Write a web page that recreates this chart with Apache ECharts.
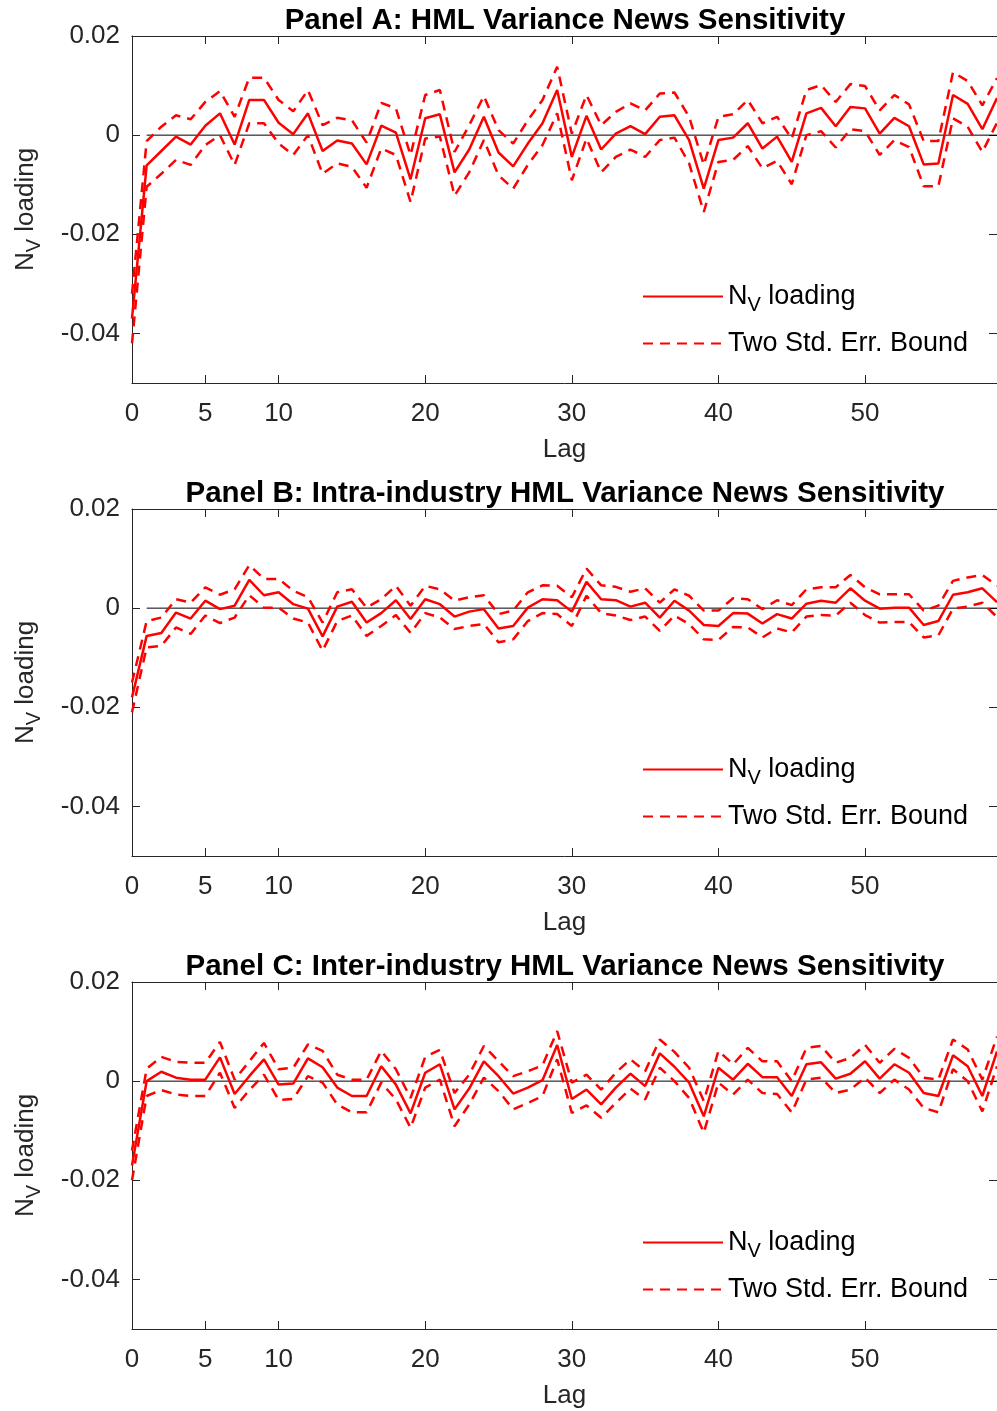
<!DOCTYPE html>
<html>
<head>
<meta charset="utf-8">
<script src="https://cdn.jsdelivr.net/npm/echarts@6/dist/echarts.min.js"></script>
<style>
  html, body { margin: 0; padding: 0; background: #fff; }
  #chart { width: 997px; height: 1411px; }
</style>
</head>
<body>
<div id="chart"></div>
<script>
// lag index (x axis)
const lags = [0, 1, 2, 3, 4, 5, 6, 7, 8, 9, 10, 11, 12, 13, 14, 15, 16, 17, 18, 19,
  20, 21, 22, 23, 24, 25, 26, 27, 28, 29, 30, 31, 32, 33, 34, 35, 36, 37, 38, 39,
  40, 41, 42, 43, 44, 45, 46, 47, 48, 49, 50, 51, 52, 53, 54, 55, 56, 57, 58, 59]

const xTicks = [0, 5, 10, 20, 30, 40, 50]
const yTicks = [-0.04, -0.02, 0, 0.02]
const zeroLine = [[1, 0], [59, 0]]

const titles = [
  'Panel A: HML Variance News Sensitivity',
  'Panel B: Intra-industry HML Variance News Sensitivity',
  'Panel C: Inter-industry HML Variance News Sensitivity'
]

// Panel A
const nvA = [-0.037, -0.0061, -0.0032, -0.0003, -0.0019, 0.0019, 0.0044, -0.0019, 0.0071, 0.0071,
  0.0025, 0.0002, 0.0044, -0.0032, -0.0011, -0.0017, -0.0059, 0.0019, 0.0005, -0.0089,
  0.0034, 0.0042, -0.0075, -0.0029, 0.0037, -0.0035, -0.0063, -0.0017, 0.0024, 0.0091,
  -0.0044, 0.0039, -0.0029, 0.0003, 0.0018, 0.0002, 0.0037, 0.004, -0.001, -0.0108,
  -0.001, -0.0005, 0.0024, -0.0027, -0.0003, -0.0054, 0.0044, 0.0055, 0.0018, 0.0057,
  0.0054, 0.0003, 0.0035, 0.0018, -0.0059, -0.0057, 0.0081, 0.0063, 0.0012, 0.0075]
const upA = [-0.032, -0.0012, 0.0017, 0.004, 0.0032, 0.0067, 0.0089, 0.0037, 0.0116, 0.0116,
  0.0071, 0.0048, 0.0091, 0.002, 0.0035, 0.003, -0.0015, 0.0065, 0.0054, -0.004,
  0.0081, 0.0091, -0.0034, 0.002, 0.0079, 0.001, -0.0017, 0.003, 0.0071, 0.0138,
  0.0003, 0.0081, 0.002, 0.0047, 0.0064, 0.005, 0.0084, 0.0086, 0.0037, -0.006,
  0.0037, 0.0042, 0.0071, 0.0024, 0.0037, -0.0007, 0.0091, 0.0101, 0.0067, 0.0103,
  0.0099, 0.005, 0.0081, 0.0062, -0.0012, -0.0012, 0.0127, 0.0109, 0.006, 0.0115]
const loA = [-0.042, -0.0104, -0.0078, -0.005, -0.006, -0.002, 0, -0.006, 0.0024, 0.0024,
  -0.0017, -0.004, 0, -0.0078, -0.0057, -0.0064, -0.0106, -0.0027, -0.004, -0.0135,
  -0.0007, -0.0003, -0.0122, -0.0075, -0.001, -0.0081, -0.0108, -0.006, -0.002, 0.0044,
  -0.0091, -0.0007, -0.0075, -0.0044, -0.0029, -0.0044, -0.001, -0.0005, -0.0057, -0.0155,
  -0.0054, -0.005, -0.0022, -0.0067, -0.0052, -0.0099, 0, 0.0008, -0.0025, 0.0012,
  0.0008, -0.004, -0.001, -0.0024, -0.0103, -0.0103, 0.0034, 0.0017, -0.0034, 0.0025]

// Panel B
const nvB = [-0.018, -0.0056, -0.005, -0.0009, -0.0021, 0.0015, -0.0002, 0.0005, 0.0057, 0.0026,
  0.0032, 0.0008, -0.0001, -0.0057, 0.0003, 0.0013, -0.0029, -0.001, 0.0016, -0.0022,
  0.0018, 0.0008, -0.0017, -0.0007, -0.0002, -0.0041, -0.0036, 0.0001, 0.0018, 0.0016,
  -0.0007, 0.0053, 0.0018, 0.0016, 0.0003, 0.0011, -0.0019, 0.0015, -0.0005, -0.0034,
  -0.0036, -0.001, -0.0011, -0.0031, -0.0012, -0.0021, 0.0009, 0.0015, 0.0011, 0.004,
  0.0015, -0.0001, 0.0001, 0.0001, -0.0034, -0.0026, 0.0027, 0.0032, 0.004, 0.0012]
const upB = [-0.015, -0.0026, -0.0019, 0.0018, 0.0011, 0.0042, 0.0027, 0.0038, 0.0087, 0.0059,
  0.0059, 0.0035, 0.0022, -0.0029, 0.0032, 0.0038, 0.0001, 0.0018, 0.0045, 0.0005,
  0.0045, 0.0038, 0.0015, 0.0022, 0.0026, -0.0012, -0.0005, 0.0032, 0.0046, 0.0045,
  0.0022, 0.008, 0.0046, 0.0043, 0.0033, 0.004, 0.0011, 0.0038, 0.0025, -0.0005,
  -0.0005, 0.002, 0.0018, -0.0002, 0.0016, 0.0006, 0.0038, 0.0042, 0.0042, 0.0067,
  0.0042, 0.0028, 0.0028, 0.0028, -0.0005, 0.0005, 0.0055, 0.0062, 0.0067, 0.0045]
const loB = [-0.021, -0.0079, -0.0076, -0.0039, -0.0052, -0.0015, -0.003, -0.0019, 0.0026, 0.0001,
  0.0001, -0.0021, -0.0029, -0.0086, -0.0026, -0.0015, -0.0056, -0.0036, -0.0014, -0.005,
  -0.001, -0.0019, -0.0042, -0.0036, -0.0032, -0.0069, -0.0063, -0.0026, -0.001, -0.0012,
  -0.0036, 0.0025, -0.001, -0.0015, -0.0024, -0.0017, -0.0046, -0.0015, -0.0032, -0.0063,
  -0.0064, -0.0038, -0.0039, -0.0059, -0.0041, -0.0049, -0.0017, -0.0014, -0.0015, 0.0011,
  -0.0014, -0.0029, -0.0028, -0.0028, -0.0059, -0.0055, -0.0001, 0.0003, 0.0011, -0.0018]

// Panel C
const nvC = [-0.017, 0, 0.0019, 0.0007, 0.0003, 0.0003, 0.0048, -0.0026, 0.001, 0.0044,
  -0.0007, -0.0005, 0.0046, 0.0028, -0.0013, -0.003, -0.003, 0.003, -0.0007, -0.0065,
  0.0017, 0.0034, -0.0057, -0.0015, 0.004, 0.001, -0.0025, -0.0013, 0.0002, 0.0073,
  -0.0036, -0.0017, -0.0047, -0.0013, 0.0015, -0.001, 0.0056, 0.0029, -0.0003, -0.0071,
  0.0027, 0.0003, 0.0035, 0.0008, 0.0008, -0.003, 0.0034, 0.0038, 0.0005, 0.0015,
  0.004, 0.0005, 0.0034, 0.0017, -0.0024, -0.003, 0.0052, 0.003, -0.003, 0.006]
const upC = [-0.014, 0.0025, 0.0049, 0.0039, 0.0037, 0.0037, 0.0079, 0.0003, 0.004, 0.0077,
  0.0024, 0.0027, 0.0074, 0.0061, 0.0013, 0.0003, 0.0003, 0.0061, 0.0024, -0.0034,
  0.0049, 0.0063, -0.0024, 0.0013, 0.0071, 0.004, 0.001, 0.002, 0.0032, 0.0101,
  -0.0003, 0.0013, -0.0017, 0.0017, 0.0044, 0.002, 0.0084, 0.0059, 0.0027, -0.004,
  0.0061, 0.0034, 0.0067, 0.004, 0.004, 0, 0.0067, 0.0071, 0.0037, 0.0047,
  0.0073, 0.0037, 0.0065, 0.0047, 0.0007, 0.0003, 0.0084, 0.0064, 0.0003, 0.009]
const loC = [-0.020, -0.003, -0.0018, -0.0027, -0.003, -0.003, 0.0017, -0.0054, -0.0018, 0.0013,
  -0.0038, -0.0036, 0.001, -0.0003, -0.0047, -0.0063, -0.0063, -0.0003, -0.0037, -0.0094,
  -0.0013, 0.0003, -0.0091, -0.0047, 0.0007, -0.002, -0.0057, -0.0044, -0.003, 0.0044,
  -0.0064, -0.0049, -0.0074, -0.0044, -0.0015, -0.0037, 0.0027, 0, -0.0034, -0.0104,
  -0.0003, -0.0027, 0.0003, -0.0024, -0.0026, -0.0063, 0.0003, 0.0007, -0.0024, -0.0017,
  0.0007, -0.0024, 0.0003, -0.0017, -0.0054, -0.0063, 0.0024, 0, -0.0061, 0.003]

const panels = [
  { nv: nvA, up: upA, lo: loA },
  { nv: nvB, up: upB, lo: loB },
  { nv: nvC, up: upC, lo: loC }
]

const NV_NAME = 'NV loading'
const SE_NAME = 'Two Std. Err. Bound'
const axisColor = '#262626'
const red = '#ff0000'
const font = 'Liberation Sans, Arial, Helvetica, sans-serif'

const gridTops = [36, 509, 982]
const gridH = 347
const gridLeft = 130
const gridW = 873

const subRich = {
  sub: { fontSize: 20, lineHeight: 20, verticalAlign: 'bottom', fontFamily: font, color: axisColor }
}

const pairs = (ys) => lags.map((x, i) => [x, ys[i]])

const option = {
  animation: false,
  backgroundColor: '#fff',
  title: [],
  legend: [],
  grid: [],
  xAxis: [],
  yAxis: [],
  series: []
}

panels.forEach((p, i) => {
  const top = gridTops[i]
  option.grid.push({ left: gridLeft, top: top, width: gridW, height: gridH })

  option.title.push({
    text: titles[i],
    left: 560,
    top: top - 35,
    textAlign: 'center',
    textStyle: { fontFamily: font, fontSize: 29.5, fontWeight: 'bold', color: '#000' }
  })

  const axLine = { show: true, onZero: false, lineStyle: { color: axisColor, width: 1 } }
  const tick = { show: true, inside: true, length: 8, lineStyle: { color: axisColor } }

  // bottom x axis
  option.xAxis.push({
    type: 'value', gridIndex: i, min: 0, max: 59, position: 'bottom',
    axisLine: axLine,
    axisTick: Object.assign({}, tick, { customValues: xTicks }),
    axisLabel: { customValues: xTicks, color: axisColor, fontSize: 26, fontFamily: font, margin: 18 },
    splitLine: { show: false },
    name: 'Lag', nameLocation: 'middle', nameGap: 54,
    nameTextStyle: { color: axisColor, fontSize: 26, fontFamily: font }
  })
  // top x axis (box)
  option.xAxis.push({
    type: 'value', gridIndex: i, min: 0, max: 59, position: 'top',
    axisLine: axLine,
    axisTick: Object.assign({}, tick, { customValues: xTicks }),
    axisLabel: { show: false },
    splitLine: { show: false }
  })
  // left y axis
  option.yAxis.push({
    type: 'value', gridIndex: i, min: -0.05, max: 0.02, position: 'left',
    axisLine: axLine,
    axisTick: Object.assign({}, tick, { customValues: yTicks }),
    axisLabel: {
      customValues: yTicks, color: axisColor, fontSize: 26, fontFamily: font, margin: 12,
      formatter: (v) => (Math.abs(v) < 1e-9 ? '0' : String(+v.toFixed(2)))
    },
    splitLine: { show: false },
    name: 'N{sub|V} loading', nameLocation: 'middle', nameGap: 88, nameRotate: 90,
    nameTextStyle: { color: axisColor, fontSize: 26, fontFamily: font, lineHeight: 36, rich: subRich }
  })
  // right y axis (box)
  option.yAxis.push({
    type: 'value', gridIndex: i, min: -0.05, max: 0.02, position: 'right',
    axisLine: axLine,
    axisTick: Object.assign({}, tick, { customValues: yTicks }),
    axisLabel: { show: false },
    splitLine: { show: false }
  })

  option.legend.push({
    orient: 'vertical',
    left: 642,
    top: top + 242,
    padding: 0,
    itemGap: 10,
    itemWidth: 80,
    itemHeight: 14,
    itemStyle: { opacity: 0 },
    data: [NV_NAME, SE_NAME],
    formatter: (name) => (name === NV_NAME ? 'N{sub|V} loading' : name),
    textStyle: {
      color: '#000', fontSize: 27, fontFamily: font, lineHeight: 37,
      rich: { sub: Object.assign({}, subRich.sub, { color: '#000' }) }
    }
  })

  const xi = i * 2
  const yi = i * 2
  option.series.push({
    type: 'line', xAxisIndex: xi, yAxisIndex: yi, data: zeroLine, symbol: 'none',
    lineStyle: { color: '#000', width: 1 }, silent: true, z: 1
  })
  option.series.push({
    name: SE_NAME, type: 'line', xAxisIndex: xi, yAxisIndex: yi, data: pairs(p.up), symbol: 'none',
    lineStyle: { color: red, width: 2.5, type: [10, 7] }, itemStyle: { color: red }, z: 2
  })
  option.series.push({
    name: SE_NAME, type: 'line', xAxisIndex: xi, yAxisIndex: yi, data: pairs(p.lo), symbol: 'none',
    lineStyle: { color: red, width: 2.5, type: [10, 7] }, itemStyle: { color: red }, z: 2
  })
  option.series.push({
    name: NV_NAME, type: 'line', xAxisIndex: xi, yAxisIndex: yi, data: pairs(p.nv), symbol: 'none',
    lineStyle: { color: red, width: 2.5 }, itemStyle: { color: red }, z: 3
  })
})

const chart = echarts.init(document.getElementById('chart'), null, { renderer: 'canvas' })
chart.setOption(option)
</script>
</body>
</html>
